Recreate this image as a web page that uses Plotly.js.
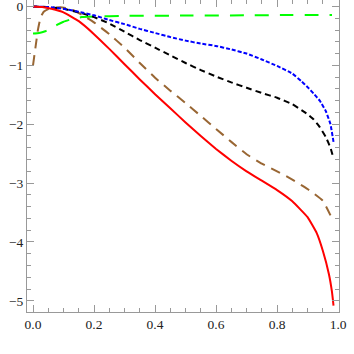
<!DOCTYPE html>
<html>
<head>
<meta charset="utf-8">
<script src="https://cdn.plot.ly/plotly-3.0.1.min.js"></script>
<style>
  html, body { margin: 0; padding: 0; background: #fff; }
  #plot { width: 354px; height: 354px; }
</style>
</head>
<body>
<div id="plot"></div>
<script>
// values
const redX = [0, 0.03, 0.06, 0.1, 0.15, 0.2, 0.25, 0.3, 0.35, 0.4, 0.45, 0.5, 0.55, 0.6, 0.65, 0.7, 0.75, 0.8, 0.85, 0.9, 0.93, 0.95, 0.97, 0.98, 0.985];
const redY = [0, -0.01, -0.04, -0.1, -0.25, -0.47, -0.72, -0.98, -1.24, -1.49, -1.73, -1.97, -2.2, -2.42, -2.62, -2.8, -2.96, -3.12, -3.31, -3.58, -3.85, -4.15, -4.55, -4.85, -5.08];

const blueX = [0, 0.05, 0.1, 0.15, 0.2, 0.25, 0.3, 0.35, 0.4, 0.45, 0.5, 0.55, 0.6, 0.65, 0.7, 0.75, 0.8, 0.85, 0.88, 0.9, 0.92, 0.94, 0.96, 0.975, 0.985];
const blueY = [0, -0.01, -0.04, -0.09, -0.15, -0.23, -0.3, -0.38, -0.45, -0.52, -0.58, -0.63, -0.67, -0.73, -0.8, -0.9, -1.01, -1.14, -1.27, -1.37, -1.48, -1.6, -1.78, -2.0, -2.3];

const blackX = [0, 0.05, 0.1, 0.15, 0.2, 0.25, 0.3, 0.35, 0.4, 0.45, 0.5, 0.55, 0.6, 0.65, 0.7, 0.75, 0.8, 0.85, 0.88, 0.9, 0.92, 0.94, 0.96, 0.975, 0.985];
const blackY = [0, -0.01, -0.04, -0.1, -0.18, -0.29, -0.43, -0.57, -0.7, -0.83, -0.96, -1.08, -1.19, -1.29, -1.38, -1.47, -1.55, -1.66, -1.76, -1.83, -1.92, -2.05, -2.22, -2.4, -2.58];

const brownX = [0, 0.008, 0.016, 0.025, 0.035, 0.05, 0.07, 0.09, 0.11, 0.13, 0.16, 0.2, 0.25, 0.3, 0.35, 0.4, 0.45, 0.5, 0.55, 0.6, 0.65, 0.7, 0.75, 0.8, 0.85, 0.9, 0.95, 0.98];
const brownY = [-1.0, -0.7, -0.4, -0.18, -0.09, -0.045, -0.02, -0.015, -0.03, -0.06, -0.14, -0.27, -0.47, -0.7, -0.96, -1.21, -1.43, -1.64, -1.86, -2.08, -2.3, -2.51, -2.67, -2.8, -2.94, -3.1, -3.3, -3.6];

const greenX = [0, 0.02, 0.04, 0.06, 0.08, 0.1, 0.13, 0.16, 0.2, 0.3, 0.5, 0.7, 0.85, 0.98];
const greenY = [-0.46, -0.45, -0.42, -0.37, -0.31, -0.26, -0.21, -0.18, -0.17, -0.16, -0.155, -0.15, -0.145, -0.145];

function curve(x, y, color, dash, width) {
  return {
    x: x, y: y,
    type: 'scatter',
    mode: 'lines',
    line: { color: color, dash: dash, width: width, shape: 'spline', smoothing: 0.3 },
    hoverinfo: 'skip'
  };
}

const data = [
  curve(greenX, greenY, '#00ff00', '14px,11px', 2),
  curve(brownX, brownY, '#996633', '10px,7px', 2),
  curve(blackX, blackY, '#000000', '6px,4px', 2),
  curve(blueX, blueY, '#0000ff', '4px,2px', 2),
  curve(redX, redY, '#ff0000', 'solid', 2)
];

const axisStyle = {
  showgrid: false,
  zeroline: false,
  showline: true,
  linecolor: '#999999',
  linewidth: 1,
  mirror: 'allticks',
  ticks: 'inside',
  ticklen: 7,
  tickcolor: '#999999',
  ticklabeloverflow: 'allow',
  tickfont: { family: '"Liberation Serif", "DejaVu Serif", serif', size: 13.5, color: '#222222' }
};

const layout = {
  width: 354,
  height: 354,
  margin: { l: 27, r: 15, t: 0, b: 42 },
  paper_bgcolor: '#ffffff',
  plot_bgcolor: '#ffffff',
  showlegend: false,
  xaxis: Object.assign({}, axisStyle, {
    range: [-0.0197, 1.003],
    tick0: 0,
    dtick: 0.2,
    tickformat: '.1f',
    minor: { dtick: 0.05, ticks: 'inside', ticklen: 4, tickcolor: '#999999' }
  }),
  yaxis: Object.assign({}, axisStyle, {
    range: [-5.19, 0.11],
    tick0: 0,
    dtick: 1,
    minor: { dtick: 0.2, ticks: 'inside', ticklen: 4, tickcolor: '#999999' }
  })
};

Plotly.newPlot('plot', data, layout, { staticPlot: true });
</script>
</body>
</html>
